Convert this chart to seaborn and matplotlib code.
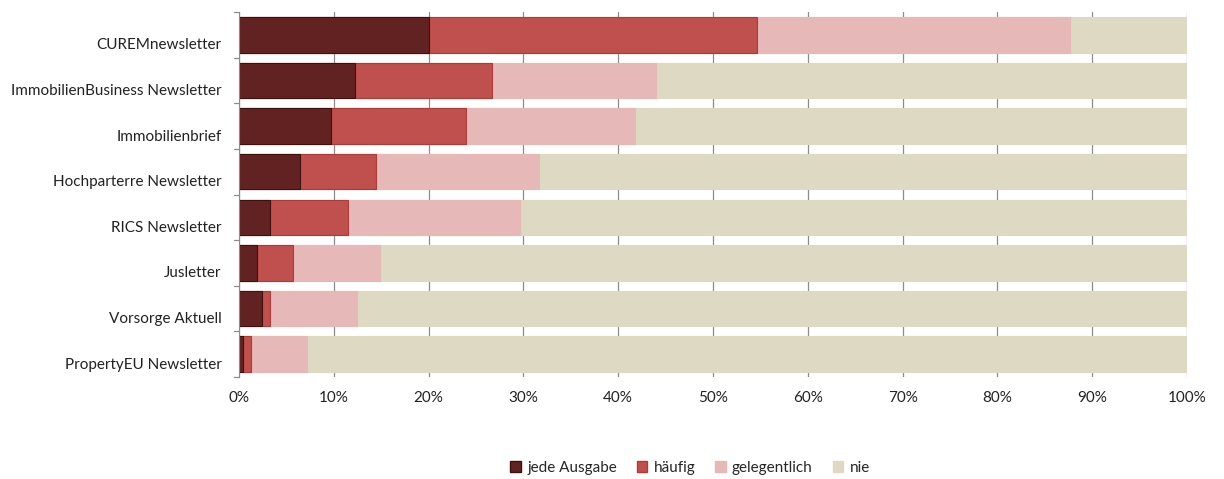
import matplotlib
matplotlib.use("Agg")
import matplotlib.pyplot as plt
import matplotlib.transforms as mtransforms
import seaborn as sns
import numpy as np
import pandas as pd
from matplotlib.ticker import PercentFormatter, MultipleLocator
from matplotlib.patches import Patch

categories = ["CUREMnewsletter", "ImmobilienBusiness Newsletter", "Immobilienbrief",
              "Hochparterre Newsletter", "RICS Newsletter", "Jusletter",
              "Vorsorge Aktuell", "PropertyEU Newsletter"]
jede_ausgabe = [20.0, 12.2, 9.7, 6.4, 3.3, 1.9, 2.4, 0.4]
haeufig = [34.6, 14.5, 14.2, 8.0, 8.2, 3.8, 0.9, 0.9]
gelegentlich = [33.1, 17.3, 17.9, 17.2, 18.1, 9.2, 9.1, 5.9]
nie = [12.3, 56.0, 58.2, 68.4, 70.4, 85.1, 87.6, 92.8]
series_names = ["jede Ausgabe", "häufig", "gelegentlich", "nie"]

colors = ["#622222", "#c0504d", "#e6b9b8", "#ddd9c3"]
edges = ["#3f1010", "#b03a37", "#e6b9b8", "#ddd9c3"]

sns.set_style("white")
plt.rcParams['font.family'] = ['Lato', 'DejaVu Sans']

df = pd.DataFrame({"cat": categories, "jede": jede_ausgabe, "haeufig": haeufig,
                   "gel": gelegentlich, "nie": nie})
cum = df[["jede", "haeufig", "gel", "nie"]].cumsum(axis=1)

fig = plt.figure(figsize=(12.24, 4.79), dpi=100)
ax = fig.add_axes([239/1224, 1 - 377/479, (1187-239)/1224, (377-12)/479])

for i in [3, 2, 1, 0]:
    col = cum.columns[i]
    sns.barplot(x=cum[col].values, y=df["cat"], orient="h", color=colors[i],
                edgecolor=edges[i], linewidth=0.8, width=0.78, ax=ax, zorder=2,
                saturation=1)

ax.set_xlim(0, 100)
ax.xaxis.set_major_locator(MultipleLocator(10))
ax.xaxis.set_major_formatter(PercentFormatter(decimals=0))
ax.grid(axis="x", color="#8c8c8c", linewidth=0.9, zorder=0)
ax.set_axisbelow(True)
ax.set_xlabel("")
ax.set_ylabel("")
for s in ["top", "right", "bottom"]:
    ax.spines[s].set_visible(False)
ax.spines["left"].set_color("#8c8c8c")
ax.tick_params(axis="y", length=0, labelsize=11, colors="#222222", pad=12.5)
ax.tick_params(axis="x", length=0, labelsize=11, colors="#222222", pad=10)
for k in range(len(categories) + 1):
    ax.plot([-0.5, 0], [k - 0.5, k - 0.5], color="#8c8c8c", lw=0.9, clip_on=False)
ax.set_ylim(len(categories) - 0.5, -0.5)

offset = mtransforms.ScaledTranslation(0, -0.09, fig.dpi_scale_trans)
for lab in ax.get_yticklabels():
    lab.set_transform(lab.get_transform() + offset)

handles = [Patch(facecolor=colors[i], edgecolor=edges[i], label=series_names[i]) for i in range(4)]
fig.legend(handles=handles, loc="center", bbox_to_anchor=(690/1224, 1 - 468/479), ncol=4,
           frameon=False, fontsize=11, handlelength=0.7, handleheight=0.7,
           handletextpad=0.4, columnspacing=1.3)

fig.savefig("out.png", dpi=100)
